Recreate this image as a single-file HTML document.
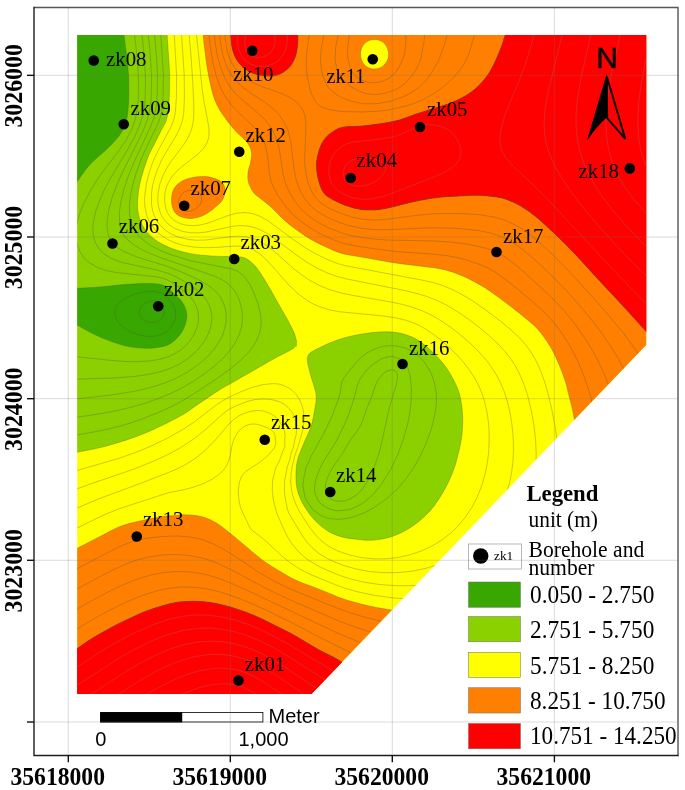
<!DOCTYPE html>
<html lang="en"><head><meta charset="utf-8"><title>Contour map</title>
<style>
html,body{margin:0;padding:0;background:#fff}
body{width:685px;height:790px;overflow:hidden}
svg{display:block}
.s{font-family:"Liberation Serif","DejaVu Serif",serif}
.a{font-family:"Liberation Sans","DejaVu Sans",sans-serif}
.b{font-weight:bold}
</style></head><body>
<svg width="685" height="790" viewBox="0 0 685 790">
<rect width="685" height="790" fill="#fff"/>
<defs><clipPath id="mp"><polygon points="77.2,35 646.2,35 646.2,345 311.4,694 77.2,694"/></clipPath></defs>
<g clip-path="url(#mp)">
<rect x="75.2" y="33" width="573" height="663" fill="#ffff00"/>
<path d="M167.0,33.0 C167.2,36.7 168.1,48.4 168.5,55.0 C168.9,61.6 169.4,66.7 169.6,72.5 C169.8,78.3 169.6,84.6 169.5,90.0 C169.4,95.4 169.3,100.0 168.8,105.0 C168.3,110.0 167.7,115.8 166.4,120.0 C165.2,124.2 163.2,126.4 161.3,130.2 C159.4,133.9 157.2,138.4 155.2,142.5 C153.1,146.6 150.9,150.3 149.0,154.7 C147.1,159.1 145.4,164.2 143.9,169.0 C142.4,173.8 140.9,178.6 139.9,183.4 C138.9,188.2 138.2,193.3 137.8,197.7 C137.5,202.1 137.3,205.8 137.8,209.9 C138.3,214.0 139.0,218.1 140.9,222.2 C142.8,226.3 145.6,230.8 149.0,234.4 C152.4,238.0 156.9,241.0 161.3,243.6 C165.7,246.2 170.5,248.1 175.6,249.8 C180.7,251.5 186.2,252.9 192.0,253.9 C197.8,254.9 204.9,255.5 210.4,255.9 C215.9,256.3 220.7,256.4 225.0,256.5 C229.3,256.6 232.5,256.2 236.0,256.5 C239.5,256.8 242.7,256.8 246.0,258.5 C249.3,260.2 252.7,263.1 256.0,267.0 C259.3,270.9 262.7,276.6 266.0,282.0 C269.3,287.4 272.7,293.7 276.0,299.5 C279.3,305.3 283.0,311.6 286.0,317.0 C289.0,322.4 292.0,327.8 293.8,332.0 C295.6,336.2 296.3,340.8 296.8,342.5 L297,346 L294.0,348.0 C293.0,348.6 291.3,349.8 288.0,351.5 C284.7,353.2 280.3,355.2 274.4,358.5 C268.5,361.8 259.8,366.8 252.5,371.0 C245.2,375.2 236.7,380.0 230.6,383.5 C224.5,387.0 221.5,388.7 216.0,392.2 C210.5,395.7 203.8,400.4 197.7,404.5 C191.6,408.6 188.6,411.6 179.5,416.5 C170.4,421.4 155.2,429.1 143.0,434.0 C130.8,438.9 117.7,442.9 106.5,446.0 C95.3,449.1 81.1,451.4 76.0,452.5 L70,460 L70,25 L167,25Z" fill="#8bd100"/>
<path d="M308.0,355.8 C309.9,351.6 315.3,349.9 321.0,347.0 C326.7,344.1 334.3,340.8 342.0,338.5 C349.7,336.2 358.7,334.3 367.0,333.2 C375.3,332.2 384.5,331.4 392.0,332.0 C399.5,332.6 406.2,334.5 412.0,337.0 C417.8,339.5 422.0,342.8 427.0,347.0 C432.0,351.2 437.8,357.0 442.0,362.0 C446.2,367.0 449.1,371.7 452.0,377.0 C454.9,382.3 457.8,387.8 459.5,394.0 C461.2,400.2 462.1,407.3 462.5,414.0 C462.9,420.7 462.7,427.3 462.0,434.0 C461.3,440.7 459.9,447.3 458.2,454.0 C456.6,460.7 454.7,467.3 452.0,474.0 C449.3,480.7 445.8,487.8 442.0,494.0 C438.2,500.2 434.5,506.1 429.5,511.5 C424.5,516.9 418.2,522.3 412.0,526.5 C405.8,530.7 398.7,534.2 392.0,536.5 C385.3,538.8 378.2,539.8 372.0,540.2 C365.8,540.7 359.5,539.5 354.5,539.0 C349.5,538.5 346.3,538.2 342.0,537.0 C337.7,535.8 332.8,534.1 328.5,531.5 C324.2,528.9 319.8,525.2 316.0,521.5 C312.2,517.8 308.9,513.6 306.0,509.0 C303.1,504.4 300.2,499.0 298.5,494.0 C296.8,489.0 296.2,484.4 296.0,479.0 C295.8,473.6 296.0,467.3 297.2,461.5 C298.5,455.7 301.2,449.8 303.5,444.0 C305.8,438.2 309.1,432.3 311.0,426.5 C312.9,420.7 313.9,414.4 314.8,409.0 C315.6,403.6 316.8,400.2 316.0,394.0 C315.2,387.8 311.1,378.4 309.8,372.0 C308.4,365.6 306.1,359.9 308.0,355.8Z" fill="#8bd100"/>
<path d="M123.8,33.0 C124.2,36.7 125.7,48.0 126.5,55.0 C127.3,62.0 128.1,68.3 128.5,75.0 C128.9,81.7 128.9,89.2 128.8,95.0 C128.7,100.8 128.5,105.5 128.0,110.0 C127.5,114.5 127.2,118.2 126.0,122.0 C124.8,125.8 123.3,129.3 121.0,133.0 C118.7,136.7 115.2,140.6 112.0,144.0 C108.8,147.4 105.2,150.6 102.0,153.5 C98.8,156.4 95.8,158.7 93.0,161.5 C90.2,164.3 87.8,166.8 85.0,170.5 C82.2,174.2 77.5,181.3 76.0,183.5 L70.0,190.0 L70.0,25.0 L125.0,25.0Z" fill="#38a800"/>
<path d="M76.0,288.3 C80.0,288.1 91.8,287.6 100.0,287.0 C108.2,286.4 116.7,285.1 125.0,284.5 C133.3,283.9 143.3,283.2 150.0,283.5 C156.7,283.8 160.7,284.0 165.0,286.0 C169.3,288.0 173.1,293.1 176.0,295.8 C178.9,298.4 180.5,299.3 182.2,302.0 C184.0,304.7 185.9,308.7 186.5,312.0 C187.1,315.3 186.9,318.5 186.0,322.0 C185.1,325.5 183.5,329.7 181.0,333.2 C178.5,336.8 174.5,341.0 171.0,343.2 C167.5,345.5 164.3,346.2 160.0,347.0 C155.7,347.8 150.8,348.5 145.0,348.2 C139.2,348.0 132.5,347.6 125.0,345.8 C117.5,343.9 108.2,340.5 100.0,337.0 C91.8,333.5 80.0,326.6 76.0,324.5 L70.0,324.0 L70.0,288.0Z" fill="#38a800"/>
<path d="M203.0,33.0 C203.3,35.8 203.8,43.0 204.8,50.0 C205.7,57.0 206.8,66.7 208.5,75.0 C210.2,83.3 212.0,92.9 214.8,100.0 C217.5,107.1 221.0,112.1 224.8,117.5 C228.5,122.9 233.2,128.3 237.0,132.5 C240.8,136.7 244.8,139.2 247.2,142.5 C249.7,145.8 251.0,149.2 251.5,152.5 C252.0,155.8 251.1,159.2 250.5,162.5 C249.9,165.8 248.3,169.2 248.0,172.5 C247.7,175.8 247.6,179.2 248.5,182.5 C249.4,185.8 251.8,190.1 253.5,192.5 C255.2,194.9 255.6,194.6 258.5,197.0 C261.4,199.4 266.8,203.2 271.0,207.0 C275.2,210.8 279.3,215.8 283.5,219.5 C287.7,223.2 291.4,226.2 296.0,229.5 C300.6,232.8 306.0,236.6 311.0,239.5 C316.0,242.4 320.8,244.7 326.0,247.0 C331.2,249.3 335.2,251.7 342.0,253.5 C348.8,255.3 358.7,256.5 367.0,258.0 C375.3,259.5 383.7,261.2 392.0,262.5 C400.3,263.8 408.7,264.6 417.0,265.8 C425.3,266.9 434.5,267.5 442.0,269.2 C449.5,270.9 455.3,272.9 462.0,275.7 C468.7,278.5 476.2,282.6 482.0,286.0 C487.8,289.4 491.8,292.5 497.0,296.2 C502.2,299.9 508.2,304.5 513.0,308.2 C517.8,311.9 521.3,314.8 525.5,318.3 C529.7,321.9 533.8,324.7 538.0,329.5 C542.2,334.3 547.0,341.2 550.5,347.0 C554.0,352.8 556.5,358.7 559.0,364.5 C561.5,370.3 563.9,377.1 565.5,382.0 C567.1,386.9 567.5,389.9 568.5,394.0 C569.5,398.1 570.8,402.4 571.8,406.5 C572.7,410.6 573.4,414.6 574.2,418.5 C575.1,422.4 576.5,428.1 577.0,430.0 L700.0,430.0 L700.0,25.0 L203.0,25.0Z" fill="#ff8000"/>
<path d="M171.5,201.8 C171.3,198.1 171.9,192.9 173.6,189.5 C175.3,186.1 178.3,183.4 181.7,181.3 C185.1,179.2 189.6,177.9 194.0,177.2 C198.4,176.4 203.9,176.1 208.3,176.8 C212.7,177.5 217.8,179.2 220.6,181.3 C223.4,183.4 224.8,186.4 225.1,189.5 C225.4,192.6 224.4,196.6 222.6,199.7 C220.8,202.8 217.5,205.3 214.4,207.9 C211.3,210.5 207.9,213.2 204.2,215.0 C200.5,216.8 195.8,218.2 192.0,218.5 C188.2,218.8 184.6,218.2 181.7,217.1 C178.8,216.0 176.3,214.6 174.6,212.0 C172.9,209.4 171.7,205.6 171.5,201.8Z" fill="#ff8000"/>
<path d="M76.0,549.0 C80.0,546.9 92.7,540.2 100.0,536.5 C107.3,532.8 113.3,529.1 120.0,526.5 C126.7,523.9 133.3,522.6 140.0,521.0 C146.7,519.4 154.8,517.9 160.0,517.0 C165.2,516.1 166.7,516.1 171.0,515.8 C175.3,515.4 181.0,514.6 186.0,514.8 C191.0,514.9 196.0,515.2 201.0,516.5 C206.0,517.8 211.0,519.8 216.0,522.8 C221.0,525.7 226.0,530.0 231.0,534.0 C236.0,538.0 241.0,542.3 246.0,546.5 C251.0,550.7 256.0,555.2 261.0,559.0 C266.0,562.8 270.2,565.5 276.0,569.0 C281.8,572.5 289.3,577.1 296.0,580.2 C302.7,583.4 310.2,585.7 316.0,588.0 C321.8,590.3 326.7,592.2 331.0,594.0 C335.3,595.8 338.1,597.1 342.0,598.5 C345.9,599.9 350.3,601.1 354.5,602.2 C358.7,603.4 362.8,604.5 367.0,605.5 C371.2,606.5 375.0,607.2 379.5,608.0 C384.0,608.8 391.6,610.1 394.0,610.5 L420.0,640.0 L420.0,720.0 L70.0,720.0 L70.0,549.0Z" fill="#ff8000"/>
<path d="M505.8,33.0 C505.1,35.0 503.5,40.9 502.0,45.0 C500.5,49.1 499.1,52.9 497.0,57.5 C494.9,62.1 492.4,67.9 489.5,72.5 C486.6,77.1 483.2,81.2 479.5,85.0 C475.8,88.8 471.6,92.1 467.0,95.0 C462.4,97.9 457.0,100.4 452.0,102.5 C447.0,104.6 442.8,105.6 437.0,107.5 C431.2,109.4 423.2,111.7 417.0,113.8 C410.8,115.8 405.3,118.4 399.5,120.0 C393.7,121.6 388.2,122.5 382.0,123.5 C375.8,124.5 368.7,125.3 362.0,126.0 C355.3,126.7 347.2,126.2 342.0,127.4 C336.8,128.6 334.2,130.7 331.0,133.0 C327.8,135.3 325.1,138.2 323.0,141.5 C320.9,144.8 319.6,148.6 318.5,152.5 C317.4,156.4 316.5,160.4 316.5,165.0 C316.5,169.6 317.3,175.4 318.5,180.0 C319.7,184.6 321.4,189.4 323.5,192.5 C325.6,195.6 327.9,196.6 331.0,198.5 C334.1,200.4 338.1,202.4 342.0,204.0 C345.9,205.6 350.3,207.2 354.5,208.2 C358.7,209.2 362.8,209.8 367.0,210.0 C371.2,210.2 375.3,210.0 379.5,209.5 C383.7,209.0 387.4,208.0 392.0,207.0 C396.6,206.0 401.6,204.5 407.0,203.2 C412.4,202.0 418.7,200.5 424.5,199.5 C430.3,198.5 436.2,197.6 442.0,197.0 C447.8,196.4 454.0,196.3 459.0,196.0 C464.0,195.7 468.2,195.4 472.0,195.3 C475.8,195.2 478.5,195.2 482.0,195.4 C485.5,195.6 489.3,196.0 493.0,196.5 C496.7,197.0 499.4,197.1 504.0,198.6 C508.6,200.1 514.9,202.6 520.3,205.7 C525.7,208.8 530.4,212.2 536.3,217.0 C542.2,221.8 549.1,228.4 555.6,234.6 C562.1,240.8 568.6,247.3 575.0,254.0 C581.4,260.7 587.6,267.8 594.0,274.7 C600.4,281.6 606.9,288.6 613.4,295.6 C619.9,302.6 626.8,310.0 632.7,316.5 C638.6,323.0 646.3,331.5 649.0,334.5 L700.0,335.0 L700.0,25.0 L505.0,25.0Z" fill="#ff0000"/>
<path d="M230.6,33.0 C230.9,35.6 231.2,43.8 232.3,48.4 C233.4,53.0 235.0,57.1 237.4,60.7 C239.8,64.3 243.0,67.5 246.6,69.9 C250.2,72.3 254.7,74.0 258.8,75.0 C262.9,76.0 267.2,76.3 271.0,76.0 C274.8,75.7 278.1,75.0 281.3,73.3 C284.6,71.6 288.1,68.9 290.5,65.8 C292.9,62.7 294.8,58.4 296.0,54.5 C297.2,50.6 297.4,45.9 297.7,42.3 C298.0,38.7 297.7,34.5 297.7,33.0 L298.0,25.0 L230.0,25.0Z" fill="#ff0000"/>
<path d="M76.0,649.5 C78.3,647.9 85.2,642.8 90.0,639.8 C94.8,636.7 100.0,633.8 105.0,631.0 C110.0,628.2 115.0,625.5 120.0,623.0 C125.0,620.5 130.0,618.2 135.0,616.0 C140.0,613.8 144.0,611.8 150.0,609.8 C156.0,607.7 165.0,604.9 171.0,603.5 C177.0,602.1 181.0,601.8 186.0,601.5 C191.0,601.2 196.0,601.2 201.0,601.5 C206.0,601.8 211.0,602.5 216.0,603.5 C221.0,604.5 226.0,605.8 231.0,607.2 C236.0,608.7 241.0,610.4 246.0,612.2 C251.0,614.1 256.0,616.2 261.0,618.5 C266.0,620.8 271.0,623.5 276.0,626.0 C281.0,628.5 286.0,630.8 291.0,633.5 C296.0,636.2 301.0,639.3 306.0,642.2 C311.0,645.2 316.4,648.5 321.0,651.0 C325.6,653.5 329.5,655.1 333.5,657.2 C337.5,659.4 343.1,662.9 345.0,664.0 L400.0,700.0 L70.0,720.0 L70.0,649.0Z" fill="#ff0000"/>
<path d="M374.5,39.5 C383,39.5 388.5,46 388.5,54.5 C388.5,63 382,69 374,69 C366,69 360.5,62.5 360.5,54 C360.5,45.5 366.5,39.5 374.5,39.5Z" fill="#ffff00"/>
<g fill="none" stroke="#4a4a4a" stroke-opacity="0.6" stroke-width="0.5"><g id="cl">
<path d="M152,300.9 150,301.2 146,302.8 142.7,305 140.9,307 139.8,309 139.1,313 140,316 142.2,319 146,321.4 148,322.1 152,322.6 156,322 158,321.2 161.1,319 162.7,317 163.7,315 164.3,311 163.4,307 162.3,305 160.4,303 158,301.6 156,301 152,300.9"/>
<path d="M140,292.7 132,295.1 124,299 119,303 117.3,305 115.3,309 114.8,313 115,315 116.3,319 118.9,323 120.7,325 126,329.3 133,333 142,335.6 148,336.4 152,336.4 156,336 160,335 166,332.2 169.7,329 171.4,327 174.7,321 175.9,315 175,309 173.3,305 168.8,299 164,294.6 160,292.5 154,291.3 148,291.4 140,292.7"/>
<path d="M70,356 112,360.5 128,361.6 138,361.6 146,361.2 154,360.3 162,358.7 170,356.1 176,353.2 182,349 186,345.3 190,340.7 193.7,335 196.5,329 198.2,323 198.6,317 197.9,311 195.8,305 193.5,301 190.3,297 186.2,293 173.2,283 166,279.3 158,277 116,272.5 106,270.5 98,267.7 90,263.2 87.2,261 84,257.7 79.6,251 76.8,243 75.9,235 76.6,225 79.1,215 84,203 90.3,191 97.7,179 103.3,171 118,151.9 126,140.3 131.9,129 135.3,119 137,111 138,102.9 138.6,91 138.5,79 137.7,65 135.8,45 134.5,35 132.6,27"/>
<path d="M70,379.2 112,378.1 134,376.5 144,375.1 154,373.2 162,371.1 170,368.4 178,364.8 184,361.3 190,356.9 196.5,351 201.7,345 205.7,339 208.7,333 211.1,325 211.8,319 211.6,315 210.5,309 209.1,305 207,301 204.2,297 200.5,293 195.8,289 190.1,285 180.2,279 174,275.8 168,273.3 158,270.3 124.1,263 116,260.4 110,257.8 104,253.9 99.1,249 95.5,243 93.6,237 92.8,229 93.5,221 95.8,211 99.4,201 103.8,191 108.9,181 128,148.9 134.6,137 139.8,125 142.8,115 144.3,107 145.1,99 145.5,79 144.8,65 143.5,49 142,35.4 140.6,27"/>
<path d="M70,399.5 108,395.5 134,391.4 146,388.7 156,385.9 166,382.5 176,378.2 185.9,373 194,367.7 202,361.5 209,355 214.2,349 219.7,341 222.7,335 225.2,327 226.2,321 226.2,315 225.3,309 224.2,305 221.5,299 218.8,295 215.2,291 212,288.2 207.7,285 200.9,281 192.8,277 179.3,271 166,266 137,257 122.9,251 116.4,247 112.1,243 109.8,239 108.3,235 107,227 107.3,219 108.9,209 112.3,197 116.8,185 121.2,175 143.1,131 147,121 149.7,111 151.3,97 151.6,77 150,51 147.5,27"/>
<path d="M388,370.6 384,373 382,374.8 377.5,381 374.8,387 370.9,399 366,410.6 363.3,419 360.8,425 357.2,431 350,440.6 342.8,453 334,465.4 330.7,471 328,476.6 326.4,481 325.4,485 325.4,491 326,493.1 328,496.4 330,498.3 334,500.4 338,501.3 344.3,501 350.2,499 356.4,495 360.6,491 365.2,485 369.9,477 373.5,469 377.2,459 380.2,449 389.5,407 396,385.5 397.4,379 397.5,375 397,373 396,371.4 394,370.2 392,369.8 388,370.6"/>
<path d="M70,418.3 106,412.8 120,409.9 132,407 146,402.9 158,398.7 170,393.8 180,388.9 192,382.1 202.7,375 213.3,367 222.3,359 229.5,351 235.1,343 239.1,335 241.5,327 242.3,321 242.3,315 241.7,309 240.2,303 238,297 234.7,291 231.5,287 228,283.7 222,279.7 214,276 158.9,257 148.9,253 142,249.7 134,245 128,240.2 123.7,235 121,229 119.5,221 119.5,211 121,201 124,189 128,177 133.6,163 151.3,125 154.2,117 156,109 157.3,95 157.5,75 156.5,57 153.9,27"/>
<path d="M388,356.8 384,357.8 380,359.6 372.2,365 366,371 360,379 357.4,385 355,395 352,405 347.7,417 344.3,425 336.3,441 322.6,463 319.7,469 316.6,477 315.1,483 314.4,491 315.6,495 318.5,501 320,503 322.3,505 328,508.3 334,510.3 338,510.8 348,509.8 352,508.6 358,505.8 362,503.6 365.6,501 370.4,497 374.4,493 382.3,483 390.9,469 397.6,455 403.5,439 407.8,423 409.7,413 411,403 411.5,389 410,375 406.9,365 405.9,363 404,360.9 402,359.7 396,357.5 392,356.7 388,356.8"/>
<path d="M70,436.3 104,430 118,426.6 130,423.1 142,419 156,413.5 170,407.3 180,402.2 198,391.1 219.1,377 230.2,369 239.9,361 247.9,353 252.7,347 257.4,339 260.1,331 261,325 261,319 259.8,311 257.7,303 254,293 250.1,285 246.2,279 242,274.4 237.1,271 232,269 198,262.3 188,260 172,255.1 160,250.4 149.9,245 141.8,239 137.9,235 134.9,231 132.8,227 131.2,223 129.6,215 129.4,205 130.6,195 133.2,183 136.2,173 141.3,159 144.8,151 158.2,123 160.4,117 161.7,111 163.1,97 163.4,75 160.3,27"/>
<path d="M382,346.6 376,348.5 372,350.2 367.1,353 362,356.7 355.6,363 344,377.7 342.2,381 341.6,383 340.1,393 338.4,399 332,416.5 321.9,437 317.2,445 314.3,451 311.5,455 309.2,461 306.1,467 303.6,479 302.9,485 304.8,497 306,499.6 312.1,509 320,515 326,517.8 332,518.9 340,519.3 350,517.8 354,516.7 364,512.9 374,507.6 386.2,499 395.2,491 400.8,485 405.8,479 411.5,471 417.6,461 422.7,451 427.1,441 430,433 432.4,425 434.7,415 436,407 436.5,399 436.2,393 434.9,385 432.6,377 430.1,371 425,363 421.6,359 414.8,353 410,350.1 404,347.6 396,345.8 388,345.6 382,346.6"/>
<path d="M70,472.5 118,458.6 136,452.3 150,446.5 168,437.9 184,428.8 194,422.1 216.2,405 222,401.1 228,397.7 240,392.1 252,387.5 262,384.8 272,383.6 278,383.9 282,384.9 288,387.5 292,390.3 296,394.3 299.3,399 301.9,405 303.4,411 304.2,419 303.1,429 297.9,447 295,455 292.1,467 291.2,473 290.7,481 291.3,489 292.6,495 295.3,503 299.1,511 302.8,517 310,527.9 316,535.6 320,539.6 326,544.5 332,548.2 338,551 350,555.1 362,557.7 374,558.9 386,558.8 398,557.5 410,554.8 421.3,551 432,546 442,539.9 450.8,533 458.9,525 465.5,517 472.1,507 477.2,497 482,485 485.3,473 487.3,463 488.6,453 489.2,441 489.1,431 488.3,421 486.7,411 484.4,401 481.8,393 478.4,385 474,377 468.7,369 464.1,363 457,355 450.9,349 441.9,341 434,334.7 426,329.2 418.3,325 410,321.6 402,319.2 394,317.5 384,316 340,311.8 330,310 320,306.9 314,304.3 308,301 298,293.7 288,284.2 271.3,265 265.7,259 258.6,253 252,249.2 246,247.1 240,246.2 234,246.1 216,247.4 204,247.7 194,247.1 184,245.5 174,242.5 166,238.6 158.1,233 154.2,229 152,226.1 149,221 147.3,217 146.1,213 145,207 144.6,201 144.8,195 146.6,183 149.1,173 153.2,161 157.9,151 171,127 174,119 175.5,111 176.4,97 176.6,75 173.8,27"/>
<path d="M70,491.5 87.5,485 134,469 152,461.8 166,455.5 180,448 194,438.8 206,429.2 223.8,413 229.5,409 236,405.8 248,401.2 256,399.4 262,399 268,399.2 274,400.1 280,402 284,404.2 288,407.3 292,412 294,415.3 296,420.4 296.6,429 296.1,435 294.9,439 293.5,447 291.1,453 290,459.2 287.2,467 284.6,481 284.4,491 285,497 286.9,507 288.7,513 303.2,537 307.7,543 312,547.6 318.4,553 326,557.9 334,561.8 344,565.6 356,569 370,571.6 384,572.7 398,572.6 412,571.2 426,568.3 438,564.6 450,559.4 461.1,553 470,546.5 480,537.4 488,528.2 494.5,519 501,507 505.9,495 509.5,483 511.5,473 513,461 513.5,449 513.2,437 512,425 510.1,413 507.2,401 504,391 500.6,383 496.5,375 491.4,367 485.3,359 478.1,351 470,343.1 460.6,335 452,328.3 441.5,321 432,315.4 422,310.7 412,307.1 402,304.3 392,302.2 354,295.6 342,293.2 330,289.8 320,285.8 310,280.5 300,273.7 292,267.2 274,251.2 268,246.5 260,241.5 254,238.8 246,236.8 238,236.2 230,236.8 206,240 196,240.2 188,239.4 178,237 170,233.4 163.8,229 158.4,223 155.9,219 154,215 152.7,211 151.6,205 151.4,195 152,189 153.2,183 156.1,173 161.1,161 166,152.2 175.4,137 179.5,129 182.3,121 183.7,113 184.4,99 184.2,75 181.1,27"/>
<path d="M70,511.1 100,498.3 140,483.6 168,472.7 176.8,469 184,465.5 196,457.9 206,449.6 216,439.2 229.9,423 234.2,419 240,415.2 245,413 250,411.5 256,410.6 260,410.6 264,411.2 269.2,413 274,415.7 277.8,419 279.4,421 284.5,431 285.1,435 284.7,439 284.9,445 284.7,447 282,453.2 279.4,461 276,467 275.4,469 272.5,481 272.3,491 273.5,501 276.7,513 284.6,531 287.6,537 292.8,545 297.9,551 304,556.7 309.7,561 318,565.9 328,570.7 340,575.5 350,578.8 364,582.2 380,584.6 398,585.8 414,585.5 428,584 442,581.1 454,577.4 466,572.3 479.1,565 490,557.1 499.1,549 508.1,539 516.6,527 523.2,515 528.2,503 532.4,489 534.7,477 535.9,465 536.2,453 535.5,439 533.9,425 531,409 527.5,395 523.5,383 519.1,373 514.8,365 510,357.8 504.6,351 497.1,343 488.4,335 478.8,327 468.3,319 456.6,311 446.4,305 436,300 426,296.2 416,293.3 404,290.4 346,278.8 336,276.1 326,272.4 316,267.6 306,261.7 296,254.7 270,235.2 262,230.6 256,228 248,226.1 244,225.7 238,225.7 230,226.8 206,232.1 198,232.9 190,232.7 182,231.3 174,228.1 168,223.9 164,219.5 161.3,215 160,211.8 158.7,207 158,203 157.8,199 158.1,193 160.1,183 163.2,175 168,166 172,160.1 183.5,145 188.4,137 191.7,129 193.4,121 193.9,109 192.8,83 191.1,57 188.5,27"/>
<path d="M70,531.5 102,515.8 118,509.1 168,492.8 184,489.7 194,487 204.7,483 212.5,479 218.1,475 222,471.7 224.3,469 226.9,465 228.6,461 229.9,457 232.1,445 233.3,441 235.1,437 238,432.1 240.7,429 244,426.7 248,424.8 252,424 256,424.1 260,425 268,428 272,430.5 274,432.7 275,435 275.7,443 275.5,445 274,448.3 268,455.5 260,462.1 246,471.3 242.5,475 241.3,477 239.8,481 238.9,485 238.3,491 238.6,497 239.4,503 240.4,507 242,511 249.6,527 252.9,531 264,539.4 283,557 290.7,563 299.7,569 311.7,575 334,584.2 346,588.6 358,591.9 374,595.3 394,598 410,599.1 426,599 440,597.6 454,594.9 468,590.7 482,584.8 496,577 507.3,569 518,559.6 527.6,549 536.4,537 543.2,525 549.4,511 553.7,497 556.3,485 557.9,471 558.3,459 557.6,445 555.5,429 551.7,409 547.4,391 543,377 539,367 535.1,359 530.3,351 524.3,343 518,336.3 510,329 500,320.8 487.1,311 474,301.8 462,294.5 451.2,289 440,284.6 432,282.3 422,280.1 346,265.8 338,263.7 330,260.7 316,254 306,248.3 294,240.1 268,220.8 260,216.3 254,214 248,212.8 244,212.5 236,213.3 228,215.6 208,223.1 200.4,225 194,225.7 186,225.2 180,223.6 174,220.4 170,216.6 167.6,213 166,209 164.6,201 164.7,195 165.3,191 166.4,187 168.1,183 172,176.5 178,169.9 184,164.9 197,155 203.3,149 207.1,143 208.8,137 209.1,133 208.8,127 204,101.5 202.4,91 195.7,27"/>
<path d="M353.1,27 350.9,31 349.4,35 348,45 347.6,53 347.8,57 348.5,61 350.1,67 351.8,71 354,74.5 358,78 362,80.2 366,81.7 370,82.6 374,82.8 378,82.4 382,81.4 388,78.8 390.6,77 394.8,73 399.3,67 403.5,57 404.6,53 405.5,47 405.9,41 405.6,35 403.7,27"/>
<path d="M70,572.5 114,549.3 124,544.7 134,541.1 146,538.4 162,536.5 178,536 190,537 196,538.1 204,540.3 212,543.4 220,547.3 232,554.3 259.9,573 274.1,581 288,588.1 336,607.7 348,612.1 362,616.4 376,620 394,623.9 408,626.1 422,627.5 434,628 446,627.6 458,626.5 470,624.6 482,621.8 494,618.1 506,613.4 518,607.5 528,601.7 538,594.8 547.7,587 556.2,579 564,570.5 571.5,561 578.2,551 584,540.7 589.5,529 593.3,519 596.9,507 599.1,497 600.7,487 601.7,477 602.2,465 601.9,455 600.8,443 599.4,433 596.9,421 592.9,405 588.9,391 585,379 580.3,367 574.8,355 569.4,345 563.1,335 555.8,325 548.8,317 540.7,309 530,299.5 514,286.2 504,278.4 496,272.7 488,268.1 481.4,265 466,259.8 456,257.3 448,255.8 434,254.2 402,252 388,250.7 360,246.7 346,244 334,240 320,233.7 308.6,227 297.9,219 291.5,213 284.7,205 277.6,195 273.3,187 271,181 269.7,175 267.7,157 266.3,149 264.5,143 261.6,137 258,131.6 254,127 238,111.8 230,103.2 225.4,97 221.1,89 216.6,77 212.9,63 210.3,47 208.2,27"/>
<path d="M188,190.6 190,190.3 194,190.6 198,192.2 200.8,195 201.6,197 201.9,199 200.9,203 198.1,207 194,209.8 190.8,211 188,211.4 184,210.8 181.2,209 179.6,207 178.6,203 179,199 181,195 184,192.2 188,190.6"/>
<path d="M339.2,27 338.1,35 335.7,47 335,57 335.6,63 336.5,67 339.9,75 344.2,81 348.6,85 352,87.4 360,91.4 364,93 368,93.9 374,94.5 380,94.1 385.8,93 392,91.1 396,89.4 400.1,87 405.4,83 412,75.8 416.4,69 419.3,63 420.7,59 423.8,43 425.6,27"/>
<path d="M70,592.9 94,579.7 112,570.4 124,564.8 136,560.3 148,557.1 162,555 176,554.5 188,555.3 202,558 210,560.4 218,563.5 232,570.2 267.2,589 288,599 340,621.5 354,626.7 368,631.3 382,635.1 396,638.2 410,640.6 422,642 436,642.8 448,642.8 460,642.1 472,640.7 486,638 498,634.9 510,630.9 522,625.9 534,619.9 545.5,613 556,605.6 566,597.4 574.8,589 583.8,579 591.6,569 598.2,559 605,547 610.5,535 615,523 618.5,511 621.1,499 622.9,487 623.9,475 624.1,463 623.6,451 622.1,437 620,425 616.7,411 612.7,397 608.6,385 603.7,373 598.1,361 591.5,349 584.1,337 575.6,325 567.7,315 560,306.2 550,295.9 524,272 514,263.6 506,257.7 500,253.9 494,250.9 486,248.3 476,245.9 464,243.7 452,242.2 434,241 386,240 370,238.6 356,236.6 344,233.7 330,228.5 318,222.4 308,215.4 301,209 296,203 290.9,195 287,187 284.9,181 282.9,173 279.9,153 278.3,145 275.8,137 271.9,129 267.7,123 262.3,117 255.6,111 242,99.8 236,94 230,86.7 225.4,79 221.1,69 217.6,57 215.2,43 213.8,27"/>
<path d="M325,27 321,51 320.5,61 321.3,69 322.6,75 325.7,83 327.9,87 332,91.2 337.1,95 342,97.7 348,100.3 362,103.6 374,103.8 378,103.5 390,101.3 402.4,97 408,94.4 413.9,91 419.4,87 423.7,83 427.2,79 431.4,73 436.2,65 439.2,59 445,43 449.2,27"/>
<path d="M70,613.2 90,601.6 108,592 124,584.4 138,578.8 152,574.7 164,572.4 178,571.4 190,571.9 200,573.3 208,575.1 218,578.1 228,581.9 250,591.7 338,633.3 360,642.4 378,648.2 392,651.7 406,654.4 420,656.4 434,657.7 448,658.1 460,657.8 474,656.6 486,654.9 500,652 514,648 527.8,643 540,637.6 552.4,631 564,623.7 575.8,615 585.2,607 595.3,597 604.1,587 612,576.5 619.5,565 626,553 631.5,541 636,529 640.2,515 642.8,503 644.9,489 646,475 646.1,461 645.3,447 643.6,433 641,419 637.5,405 633,391 628.4,379 622.8,367 617.4,357 609.9,345 601.5,333 590.9,319 580,305.9 568.5,293 556,280 542,266.4 530,255.6 522,249 513.4,243 506,238.8 498,235.4 490,232.9 480,230.9 468,229.3 454,228.2 430,227.8 384,229.8 372,229.4 362,228.3 350,225.9 338,222.1 326,216.7 316,210.5 309.9,205 305,199 301.4,193 297.9,185 296,179 294.3,171 291.5,147 290.2,139 288.1,131 284.7,123 279.3,115 273.6,109 266,103 250,92.7 244,88.3 238,83 232,75.7 229,71 226.1,65 222.8,55 220.2,41 219.4,27"/>
<path d="M310.4,27 307.4,47 306.2,59 306.2,65 307.4,77 310,89 311.2,93 315.1,101 316.6,103 320,105.9 324,107.9 330,109.7 336,110.8 344,111.6 362,112 378,111.2 390,109.7 406,106.1 415.1,103 424.1,99 431.4,95 440.4,89 447.8,83 454,77 460,70 464.6,63 467.6,57 469.8,51 476.7,27"/>
<path d="M654,386.7 650.2,377 645.6,367 641.4,359 636.6,351 624.9,335 606.7,313 576,278.6 554,256 542,244.7 532,236.2 524,230.2 516,225.3 506,220.6 494,217 480,214.8 464,213.7 448,213.4 434,213.8 418,215.2 384,219.6 374,220 364,219.4 352,217.1 340,213.2 328,207.7 320,202.3 315,197 311.4,191 308.2,183 306.2,175 305,167 304.6,159 305.8,131 305.8,123 304.8,115 302.4,109 301.1,107 297.5,103 294,100.2 289,97 280.3,93 262,86.7 254,83.3 246,78.8 242,75.8 238,71.9 234.2,67 232,63.4 229.9,59 227.8,53 226.5,47 225.3,39 224.9,33 225.1,27"/>
<path d="M70,633.4 88,622.1 106,612.1 126,602.2 142,595.6 156,591.1 170,588.1 182,587 196,587.4 208,589.1 220,591.9 232,595.8 248,602 264,609.1 292.6,623 324,639.6 350,652.3 362,657.3 378,662.4 392,666 408,669.2 422,671.4 436,672.8 450,673.4 464,673.3 478,672.4 492,670.6 506,668 518,665 530.6,661 544,655.8 556,650.3 568,643.8 578.8,637 590,628.9 600,620.6 610.2,611 619.4,601 627.4,591 634.5,581 642,568.8 648.1,557 654,543.5"/>
<path d="M286.3,27 287.2,35 287.1,43 285.9,49 283.2,55 280,59 277.8,61 274,63.6 268,65.9 262,66.6 256,65.9 250,63.7 246.1,61 244,59 241.1,55 238.6,49 237.3,41 237.4,33 238.7,27"/>
<path d="M654,311.8 612,268.5 548,199.7 536,187.7 512,165 505.3,157 502,151 500.3,145 499.9,139 500.7,131 502.5,123 506.5,111 519,81 525.7,63 531.4,45 535.9,27"/>
<path d="M70,671.5 101.7,651 115.2,643 134,633.1 152,625.1 168,619.5 182,616.3 196,614.9 210,615.3 222,617 234,619.8 248,624.3 260,629.3 286,642.6 314,659.7 340,674.8 348,678.9 358,683.3 374,689.2 390,694 406,697.9 422.3,701"/>
<path d="M514.8,701 534,696.9 554,690.9 574,683 592,674.1 610,663.1 626,651.3 640,639 654,624.6"/>
<path d="M422,125 426,124.6 432,124.8 438,125.7 442.5,127 447,129 450.1,131 452.5,133 455.8,137 458.1,141 460.4,147 461.1,151 460.9,155 459.6,159 456.9,163 452.8,167 450.1,169 444,172.5 438.8,175 392,193.3 381.2,197 372,198.9 366,199.3 360,199.1 354,198 350,196.9 344,194.4 338.2,191 335.8,189 332.4,185 330.5,181 329,175 328.8,169 329.2,165 331,159 333.1,155 336.1,151 340.7,147 346,144.1 354,141.8 382,138.9 394,136.6 402,133.9 416,127 422,125"/>
<path d="M271.8,27 274,31.5 275.2,37 275,43 273.9,47 271.6,51 269.9,53 267.4,55 263.1,57 258,57.7 254,57.1 250,55 248,53 246.8,51 245.3,47 244.8,43 245.3,37 247.3,31 249.8,27"/>
<path d="M654,283.8 630,259.8 614,243 596,223 582.6,207 570.5,191 561.1,177 554.3,165 549.1,153 546.1,143 544.5,133 544.1,123 544.9,111 546.4,101 548.9,89 564.1,27"/>
<path d="M70,689.6 120,657.6 136,648.6 152,640.9 168,634.6 182,630.7 196,628.5 210,628.1 222,629.2 234,631.6 246,635.2 260,640.9 272,646.9 282.8,653 318,675.3 336,686.2 352,694.3 367.9,701"/>
<path d="M579.6,701 600,691.6 618.5,681 636,669 646,661.1 654,654.1"/>
<path d="M356,158.6 362,157.6 368,157.8 375,159 380,160.8 383.4,163 385,165 385.7,167 385.7,169 385.1,171 382.8,175 378.8,179 374,182.2 370,184.1 366,185.4 360,186.2 356,186 351.8,185 348,183 345.9,181 344.5,179 343.2,175 343.4,171 344.8,167 347.8,163 352,160.1 356,158.6"/>
<path d="M654,254.6 636.6,237 623.6,223 611.7,209 602.6,197 594.7,185 588.2,173 583,161 579.9,151 577.6,141 576.2,129 576,117 576.8,105 578.4,93 581.3,77 592.5,27"/>
<path d="M80.8,701 128,670.2 144,661 158,654 172,648.3 186,644.1 200,641.7 212,641.1 224,641.9 236,644.2 248,647.8 260,652.9 268,657 278.3,663 318,689.2 337.6,701"/>
<path d="M623.4,701 639.7,691 654,680.7"/>
<path d="M654,222 643.9,211 634,199.4 626.2,189 621,181 616.6,173 612.5,163 609.5,153 607.5,143 606.3,133 605.9,123 606.3,111 607.5,99 609.5,85 612.1,71 622,27"/>
<path d="M108.5,701 128,688 142.4,679 156,671.4 169.4,665 182,660.2 194,656.8 206,654.9 216,654.3 226,654.9 236,656.6 246,659.5 256,663.6 266,668.9 275.8,675 313.8,701"/>
<path d="M654,179.3 646.8,167 644.1,161 642,154.8 640.1,147 638.7,139 637.7,123 638.5,105 641,85 645.5,61 653.2,27"/>
<path d="M136.6,701 149.2,693 160,686.8 171.2,681 182,676.3 192,672.8 202,670.2 212,668.6 220,668.2 228,668.5 236,669.7 242,671.3 250,674.4 258,678.6 266,683.4 291.3,701"/>
<path d="M168.4,701 184,693.3 198,688 206,685.9 212,684.7 224,683.7 234,684.5 242,686.8 254,692.7 267.1,701"/>
<path d="M167.0,33.0 C167.2,36.7 168.1,48.4 168.5,55.0 C168.9,61.6 169.4,66.7 169.6,72.5 C169.8,78.3 169.6,84.6 169.5,90.0 C169.4,95.4 169.3,100.0 168.8,105.0 C168.3,110.0 167.7,115.8 166.4,120.0 C165.2,124.2 163.2,126.4 161.3,130.2 C159.4,133.9 157.2,138.4 155.2,142.5 C153.1,146.6 150.9,150.3 149.0,154.7 C147.1,159.1 145.4,164.2 143.9,169.0 C142.4,173.8 140.9,178.6 139.9,183.4 C138.9,188.2 138.2,193.3 137.8,197.7 C137.5,202.1 137.3,205.8 137.8,209.9 C138.3,214.0 139.0,218.1 140.9,222.2 C142.8,226.3 145.6,230.8 149.0,234.4 C152.4,238.0 156.9,241.0 161.3,243.6 C165.7,246.2 170.5,248.1 175.6,249.8 C180.7,251.5 186.2,252.9 192.0,253.9 C197.8,254.9 204.9,255.5 210.4,255.9 C215.9,256.3 220.7,256.4 225.0,256.5 C229.3,256.6 232.5,256.2 236.0,256.5 C239.5,256.8 242.7,256.8 246.0,258.5 C249.3,260.2 252.7,263.1 256.0,267.0 C259.3,270.9 262.7,276.6 266.0,282.0 C269.3,287.4 272.7,293.7 276.0,299.5 C279.3,305.3 283.0,311.6 286.0,317.0 C289.0,322.4 292.0,327.8 293.8,332.0 C295.6,336.2 296.3,340.8 296.8,342.5"/>
<path d="M294.0,348.0 C293.0,348.6 291.3,349.8 288.0,351.5 C284.7,353.2 280.3,355.2 274.4,358.5 C268.5,361.8 259.8,366.8 252.5,371.0 C245.2,375.2 236.7,380.0 230.6,383.5 C224.5,387.0 221.5,388.7 216.0,392.2 C210.5,395.7 203.8,400.4 197.7,404.5 C191.6,408.6 188.6,411.6 179.5,416.5 C170.4,421.4 155.2,429.1 143.0,434.0 C130.8,438.9 117.7,442.9 106.5,446.0 C95.3,449.1 81.1,451.4 76.0,452.5"/>
<path d="M123.8,33.0 C124.2,36.7 125.7,48.0 126.5,55.0 C127.3,62.0 128.1,68.3 128.5,75.0 C128.9,81.7 128.9,89.2 128.8,95.0 C128.7,100.8 128.5,105.5 128.0,110.0 C127.5,114.5 127.2,118.2 126.0,122.0 C124.8,125.8 123.3,129.3 121.0,133.0 C118.7,136.7 115.2,140.6 112.0,144.0 C108.8,147.4 105.2,150.6 102.0,153.5 C98.8,156.4 95.8,158.7 93.0,161.5 C90.2,164.3 87.8,166.8 85.0,170.5 C82.2,174.2 77.5,181.3 76.0,183.5"/>
<path d="M76.0,288.3 C80.0,288.1 91.8,287.6 100.0,287.0 C108.2,286.4 116.7,285.1 125.0,284.5 C133.3,283.9 143.3,283.2 150.0,283.5 C156.7,283.8 160.7,284.0 165.0,286.0 C169.3,288.0 173.1,293.1 176.0,295.8 C178.9,298.4 180.5,299.3 182.2,302.0 C184.0,304.7 185.9,308.7 186.5,312.0 C187.1,315.3 186.9,318.5 186.0,322.0 C185.1,325.5 183.5,329.7 181.0,333.2 C178.5,336.8 174.5,341.0 171.0,343.2 C167.5,345.5 164.3,346.2 160.0,347.0 C155.7,347.8 150.8,348.5 145.0,348.2 C139.2,348.0 132.5,347.6 125.0,345.8 C117.5,343.9 108.2,340.5 100.0,337.0 C91.8,333.5 80.0,326.6 76.0,324.5"/>
<path d="M308.0,355.8 C309.9,351.6 315.3,349.9 321.0,347.0 C326.7,344.1 334.3,340.8 342.0,338.5 C349.7,336.2 358.7,334.3 367.0,333.2 C375.3,332.2 384.5,331.4 392.0,332.0 C399.5,332.6 406.2,334.5 412.0,337.0 C417.8,339.5 422.0,342.8 427.0,347.0 C432.0,351.2 437.8,357.0 442.0,362.0 C446.2,367.0 449.1,371.7 452.0,377.0 C454.9,382.3 457.8,387.8 459.5,394.0 C461.2,400.2 462.1,407.3 462.5,414.0 C462.9,420.7 462.7,427.3 462.0,434.0 C461.3,440.7 459.9,447.3 458.2,454.0 C456.6,460.7 454.7,467.3 452.0,474.0 C449.3,480.7 445.8,487.8 442.0,494.0 C438.2,500.2 434.5,506.1 429.5,511.5 C424.5,516.9 418.2,522.3 412.0,526.5 C405.8,530.7 398.7,534.2 392.0,536.5 C385.3,538.8 378.2,539.8 372.0,540.2 C365.8,540.7 359.5,539.5 354.5,539.0 C349.5,538.5 346.3,538.2 342.0,537.0 C337.7,535.8 332.8,534.1 328.5,531.5 C324.2,528.9 319.8,525.2 316.0,521.5 C312.2,517.8 308.9,513.6 306.0,509.0 C303.1,504.4 300.2,499.0 298.5,494.0 C296.8,489.0 296.2,484.4 296.0,479.0 C295.8,473.6 296.0,467.3 297.2,461.5 C298.5,455.7 301.2,449.8 303.5,444.0 C305.8,438.2 309.1,432.3 311.0,426.5 C312.9,420.7 313.9,414.4 314.8,409.0 C315.6,403.6 316.8,400.2 316.0,394.0 C315.2,387.8 311.1,378.4 309.8,372.0 C308.4,365.6 306.1,359.9 308.0,355.8Z"/>
<path d="M203.0,33.0 C203.3,35.8 203.8,43.0 204.8,50.0 C205.7,57.0 206.8,66.7 208.5,75.0 C210.2,83.3 212.0,92.9 214.8,100.0 C217.5,107.1 221.0,112.1 224.8,117.5 C228.5,122.9 233.2,128.3 237.0,132.5 C240.8,136.7 244.8,139.2 247.2,142.5 C249.7,145.8 251.0,149.2 251.5,152.5 C252.0,155.8 251.1,159.2 250.5,162.5 C249.9,165.8 248.3,169.2 248.0,172.5 C247.7,175.8 247.6,179.2 248.5,182.5 C249.4,185.8 251.8,190.1 253.5,192.5 C255.2,194.9 255.6,194.6 258.5,197.0 C261.4,199.4 266.8,203.2 271.0,207.0 C275.2,210.8 279.3,215.8 283.5,219.5 C287.7,223.2 291.4,226.2 296.0,229.5 C300.6,232.8 306.0,236.6 311.0,239.5 C316.0,242.4 320.8,244.7 326.0,247.0 C331.2,249.3 335.2,251.7 342.0,253.5 C348.8,255.3 358.7,256.5 367.0,258.0 C375.3,259.5 383.7,261.2 392.0,262.5 C400.3,263.8 408.7,264.6 417.0,265.8 C425.3,266.9 434.5,267.5 442.0,269.2 C449.5,270.9 455.3,272.9 462.0,275.7 C468.7,278.5 476.2,282.6 482.0,286.0 C487.8,289.4 491.8,292.5 497.0,296.2 C502.2,299.9 508.2,304.5 513.0,308.2 C517.8,311.9 521.3,314.8 525.5,318.3 C529.7,321.9 533.8,324.7 538.0,329.5 C542.2,334.3 547.0,341.2 550.5,347.0 C554.0,352.8 556.5,358.7 559.0,364.5 C561.5,370.3 563.9,377.1 565.5,382.0 C567.1,386.9 567.5,389.9 568.5,394.0 C569.5,398.1 570.8,402.4 571.8,406.5 C572.7,410.6 573.4,414.6 574.2,418.5 C575.1,422.4 576.5,428.1 577.0,430.0"/>
<path d="M505.8,33.0 C505.1,35.0 503.5,40.9 502.0,45.0 C500.5,49.1 499.1,52.9 497.0,57.5 C494.9,62.1 492.4,67.9 489.5,72.5 C486.6,77.1 483.2,81.2 479.5,85.0 C475.8,88.8 471.6,92.1 467.0,95.0 C462.4,97.9 457.0,100.4 452.0,102.5 C447.0,104.6 442.8,105.6 437.0,107.5 C431.2,109.4 423.2,111.7 417.0,113.8 C410.8,115.8 405.3,118.4 399.5,120.0 C393.7,121.6 388.2,122.5 382.0,123.5 C375.8,124.5 368.7,125.3 362.0,126.0 C355.3,126.7 347.2,126.2 342.0,127.4 C336.8,128.6 334.2,130.7 331.0,133.0 C327.8,135.3 325.1,138.2 323.0,141.5 C320.9,144.8 319.6,148.6 318.5,152.5 C317.4,156.4 316.5,160.4 316.5,165.0 C316.5,169.6 317.3,175.4 318.5,180.0 C319.7,184.6 321.4,189.4 323.5,192.5 C325.6,195.6 327.9,196.6 331.0,198.5 C334.1,200.4 338.1,202.4 342.0,204.0 C345.9,205.6 350.3,207.2 354.5,208.2 C358.7,209.2 362.8,209.8 367.0,210.0 C371.2,210.2 375.3,210.0 379.5,209.5 C383.7,209.0 387.4,208.0 392.0,207.0 C396.6,206.0 401.6,204.5 407.0,203.2 C412.4,202.0 418.7,200.5 424.5,199.5 C430.3,198.5 436.2,197.6 442.0,197.0 C447.8,196.4 454.0,196.3 459.0,196.0 C464.0,195.7 468.2,195.4 472.0,195.3 C475.8,195.2 478.5,195.2 482.0,195.4 C485.5,195.6 489.3,196.0 493.0,196.5 C496.7,197.0 499.4,197.1 504.0,198.6 C508.6,200.1 514.9,202.6 520.3,205.7 C525.7,208.8 530.4,212.2 536.3,217.0 C542.2,221.8 549.1,228.4 555.6,234.6 C562.1,240.8 568.6,247.3 575.0,254.0 C581.4,260.7 587.6,267.8 594.0,274.7 C600.4,281.6 606.9,288.6 613.4,295.6 C619.9,302.6 626.8,310.0 632.7,316.5 C638.6,323.0 646.3,331.5 649.0,334.5"/>
<path d="M230.6,33.0 C230.9,35.6 231.2,43.8 232.3,48.4 C233.4,53.0 235.0,57.1 237.4,60.7 C239.8,64.3 243.0,67.5 246.6,69.9 C250.2,72.3 254.7,74.0 258.8,75.0 C262.9,76.0 267.2,76.3 271.0,76.0 C274.8,75.7 278.1,75.0 281.3,73.3 C284.6,71.6 288.1,68.9 290.5,65.8 C292.9,62.7 294.8,58.4 296.0,54.5 C297.2,50.6 297.4,45.9 297.7,42.3 C298.0,38.7 297.7,34.5 297.7,33.0"/>
<path d="M171.5,201.8 C171.3,198.1 171.9,192.9 173.6,189.5 C175.3,186.1 178.3,183.4 181.7,181.3 C185.1,179.2 189.6,177.9 194.0,177.2 C198.4,176.4 203.9,176.1 208.3,176.8 C212.7,177.5 217.8,179.2 220.6,181.3 C223.4,183.4 224.8,186.4 225.1,189.5 C225.4,192.6 224.4,196.6 222.6,199.7 C220.8,202.8 217.5,205.3 214.4,207.9 C211.3,210.5 207.9,213.2 204.2,215.0 C200.5,216.8 195.8,218.2 192.0,218.5 C188.2,218.8 184.6,218.2 181.7,217.1 C178.8,216.0 176.3,214.6 174.6,212.0 C172.9,209.4 171.7,205.6 171.5,201.8Z"/>
<path d="M76.0,549.0 C80.0,546.9 92.7,540.2 100.0,536.5 C107.3,532.8 113.3,529.1 120.0,526.5 C126.7,523.9 133.3,522.6 140.0,521.0 C146.7,519.4 154.8,517.9 160.0,517.0 C165.2,516.1 166.7,516.1 171.0,515.8 C175.3,515.4 181.0,514.6 186.0,514.8 C191.0,514.9 196.0,515.2 201.0,516.5 C206.0,517.8 211.0,519.8 216.0,522.8 C221.0,525.7 226.0,530.0 231.0,534.0 C236.0,538.0 241.0,542.3 246.0,546.5 C251.0,550.7 256.0,555.2 261.0,559.0 C266.0,562.8 270.2,565.5 276.0,569.0 C281.8,572.5 289.3,577.1 296.0,580.2 C302.7,583.4 310.2,585.7 316.0,588.0 C321.8,590.3 326.7,592.2 331.0,594.0 C335.3,595.8 338.1,597.1 342.0,598.5 C345.9,599.9 350.3,601.1 354.5,602.2 C358.7,603.4 362.8,604.5 367.0,605.5 C371.2,606.5 375.0,607.2 379.5,608.0 C384.0,608.8 391.6,610.1 394.0,610.5"/>
<path d="M76.0,649.5 C78.3,647.9 85.2,642.8 90.0,639.8 C94.8,636.7 100.0,633.8 105.0,631.0 C110.0,628.2 115.0,625.5 120.0,623.0 C125.0,620.5 130.0,618.2 135.0,616.0 C140.0,613.8 144.0,611.8 150.0,609.8 C156.0,607.7 165.0,604.9 171.0,603.5 C177.0,602.1 181.0,601.8 186.0,601.5 C191.0,601.2 196.0,601.2 201.0,601.5 C206.0,601.8 211.0,602.5 216.0,603.5 C221.0,604.5 226.0,605.8 231.0,607.2 C236.0,608.7 241.0,610.4 246.0,612.2 C251.0,614.1 256.0,616.2 261.0,618.5 C266.0,620.8 271.0,623.5 276.0,626.0 C281.0,628.5 286.0,630.8 291.0,633.5 C296.0,636.2 301.0,639.3 306.0,642.2 C311.0,645.2 316.4,648.5 321.0,651.0 C325.6,653.5 329.5,655.1 333.5,657.2 C337.5,659.4 343.1,662.9 345.0,664.0"/>
<path d="M374.5,39.5 C383,39.5 388.5,46 388.5,54.5 C388.5,63 382,69 374,69 C366,69 360.5,62.5 360.5,54 C360.5,45.5 366.5,39.5 374.5,39.5Z"/>
</g></g>
<clipPath id="rc"><path d="M505.8,33.0 C505.1,35.0 503.5,40.9 502.0,45.0 C500.5,49.1 499.1,52.9 497.0,57.5 C494.9,62.1 492.4,67.9 489.5,72.5 C486.6,77.1 483.2,81.2 479.5,85.0 C475.8,88.8 471.6,92.1 467.0,95.0 C462.4,97.9 457.0,100.4 452.0,102.5 C447.0,104.6 442.8,105.6 437.0,107.5 C431.2,109.4 423.2,111.7 417.0,113.8 C410.8,115.8 405.3,118.4 399.5,120.0 C393.7,121.6 388.2,122.5 382.0,123.5 C375.8,124.5 368.7,125.3 362.0,126.0 C355.3,126.7 347.2,126.2 342.0,127.4 C336.8,128.6 334.2,130.7 331.0,133.0 C327.8,135.3 325.1,138.2 323.0,141.5 C320.9,144.8 319.6,148.6 318.5,152.5 C317.4,156.4 316.5,160.4 316.5,165.0 C316.5,169.6 317.3,175.4 318.5,180.0 C319.7,184.6 321.4,189.4 323.5,192.5 C325.6,195.6 327.9,196.6 331.0,198.5 C334.1,200.4 338.1,202.4 342.0,204.0 C345.9,205.6 350.3,207.2 354.5,208.2 C358.7,209.2 362.8,209.8 367.0,210.0 C371.2,210.2 375.3,210.0 379.5,209.5 C383.7,209.0 387.4,208.0 392.0,207.0 C396.6,206.0 401.6,204.5 407.0,203.2 C412.4,202.0 418.7,200.5 424.5,199.5 C430.3,198.5 436.2,197.6 442.0,197.0 C447.8,196.4 454.0,196.3 459.0,196.0 C464.0,195.7 468.2,195.4 472.0,195.3 C475.8,195.2 478.5,195.2 482.0,195.4 C485.5,195.6 489.3,196.0 493.0,196.5 C496.7,197.0 499.4,197.1 504.0,198.6 C508.6,200.1 514.9,202.6 520.3,205.7 C525.7,208.8 530.4,212.2 536.3,217.0 C542.2,221.8 549.1,228.4 555.6,234.6 C562.1,240.8 568.6,247.3 575.0,254.0 C581.4,260.7 587.6,267.8 594.0,274.7 C600.4,281.6 606.9,288.6 613.4,295.6 C619.9,302.6 626.8,310.0 632.7,316.5 C638.6,323.0 646.3,331.5 649.0,334.5 L700.0,335.0 L700.0,25.0 L505.0,25.0Z"/><path d="M230.6,33.0 C230.9,35.6 231.2,43.8 232.3,48.4 C233.4,53.0 235.0,57.1 237.4,60.7 C239.8,64.3 243.0,67.5 246.6,69.9 C250.2,72.3 254.7,74.0 258.8,75.0 C262.9,76.0 267.2,76.3 271.0,76.0 C274.8,75.7 278.1,75.0 281.3,73.3 C284.6,71.6 288.1,68.9 290.5,65.8 C292.9,62.7 294.8,58.4 296.0,54.5 C297.2,50.6 297.4,45.9 297.7,42.3 C298.0,38.7 297.7,34.5 297.7,33.0 L298.0,25.0 L230.0,25.0Z"/><path d="M76.0,649.5 C78.3,647.9 85.2,642.8 90.0,639.8 C94.8,636.7 100.0,633.8 105.0,631.0 C110.0,628.2 115.0,625.5 120.0,623.0 C125.0,620.5 130.0,618.2 135.0,616.0 C140.0,613.8 144.0,611.8 150.0,609.8 C156.0,607.7 165.0,604.9 171.0,603.5 C177.0,602.1 181.0,601.8 186.0,601.5 C191.0,601.2 196.0,601.2 201.0,601.5 C206.0,601.8 211.0,602.5 216.0,603.5 C221.0,604.5 226.0,605.8 231.0,607.2 C236.0,608.7 241.0,610.4 246.0,612.2 C251.0,614.1 256.0,616.2 261.0,618.5 C266.0,620.8 271.0,623.5 276.0,626.0 C281.0,628.5 286.0,630.8 291.0,633.5 C296.0,636.2 301.0,639.3 306.0,642.2 C311.0,645.2 316.4,648.5 321.0,651.0 C325.6,653.5 329.5,655.1 333.5,657.2 C337.5,659.4 343.1,662.9 345.0,664.0 L400.0,700.0 L70.0,720.0 L70.0,649.0Z"/></clipPath>
<path d="M505.8,33.0 C505.1,35.0 503.5,40.9 502.0,45.0 C500.5,49.1 499.1,52.9 497.0,57.5 C494.9,62.1 492.4,67.9 489.5,72.5 C486.6,77.1 483.2,81.2 479.5,85.0 C475.8,88.8 471.6,92.1 467.0,95.0 C462.4,97.9 457.0,100.4 452.0,102.5 C447.0,104.6 442.8,105.6 437.0,107.5 C431.2,109.4 423.2,111.7 417.0,113.8 C410.8,115.8 405.3,118.4 399.5,120.0 C393.7,121.6 388.2,122.5 382.0,123.5 C375.8,124.5 368.7,125.3 362.0,126.0 C355.3,126.7 347.2,126.2 342.0,127.4 C336.8,128.6 334.2,130.7 331.0,133.0 C327.8,135.3 325.1,138.2 323.0,141.5 C320.9,144.8 319.6,148.6 318.5,152.5 C317.4,156.4 316.5,160.4 316.5,165.0 C316.5,169.6 317.3,175.4 318.5,180.0 C319.7,184.6 321.4,189.4 323.5,192.5 C325.6,195.6 327.9,196.6 331.0,198.5 C334.1,200.4 338.1,202.4 342.0,204.0 C345.9,205.6 350.3,207.2 354.5,208.2 C358.7,209.2 362.8,209.8 367.0,210.0 C371.2,210.2 375.3,210.0 379.5,209.5 C383.7,209.0 387.4,208.0 392.0,207.0 C396.6,206.0 401.6,204.5 407.0,203.2 C412.4,202.0 418.7,200.5 424.5,199.5 C430.3,198.5 436.2,197.6 442.0,197.0 C447.8,196.4 454.0,196.3 459.0,196.0 C464.0,195.7 468.2,195.4 472.0,195.3 C475.8,195.2 478.5,195.2 482.0,195.4 C485.5,195.6 489.3,196.0 493.0,196.5 C496.7,197.0 499.4,197.1 504.0,198.6 C508.6,200.1 514.9,202.6 520.3,205.7 C525.7,208.8 530.4,212.2 536.3,217.0 C542.2,221.8 549.1,228.4 555.6,234.6 C562.1,240.8 568.6,247.3 575.0,254.0 C581.4,260.7 587.6,267.8 594.0,274.7 C600.4,281.6 606.9,288.6 613.4,295.6 C619.9,302.6 626.8,310.0 632.7,316.5 C638.6,323.0 646.3,331.5 649.0,334.5 L700.0,335.0 L700.0,25.0 L505.0,25.0Z" fill="#ff0000"/>
<path d="M230.6,33.0 C230.9,35.6 231.2,43.8 232.3,48.4 C233.4,53.0 235.0,57.1 237.4,60.7 C239.8,64.3 243.0,67.5 246.6,69.9 C250.2,72.3 254.7,74.0 258.8,75.0 C262.9,76.0 267.2,76.3 271.0,76.0 C274.8,75.7 278.1,75.0 281.3,73.3 C284.6,71.6 288.1,68.9 290.5,65.8 C292.9,62.7 294.8,58.4 296.0,54.5 C297.2,50.6 297.4,45.9 297.7,42.3 C298.0,38.7 297.7,34.5 297.7,33.0 L298.0,25.0 L230.0,25.0Z" fill="#ff0000"/>
<path d="M76.0,649.5 C78.3,647.9 85.2,642.8 90.0,639.8 C94.8,636.7 100.0,633.8 105.0,631.0 C110.0,628.2 115.0,625.5 120.0,623.0 C125.0,620.5 130.0,618.2 135.0,616.0 C140.0,613.8 144.0,611.8 150.0,609.8 C156.0,607.7 165.0,604.9 171.0,603.5 C177.0,602.1 181.0,601.8 186.0,601.5 C191.0,601.2 196.0,601.2 201.0,601.5 C206.0,601.8 211.0,602.5 216.0,603.5 C221.0,604.5 226.0,605.8 231.0,607.2 C236.0,608.7 241.0,610.4 246.0,612.2 C251.0,614.1 256.0,616.2 261.0,618.5 C266.0,620.8 271.0,623.5 276.0,626.0 C281.0,628.5 286.0,630.8 291.0,633.5 C296.0,636.2 301.0,639.3 306.0,642.2 C311.0,645.2 316.4,648.5 321.0,651.0 C325.6,653.5 329.5,655.1 333.5,657.2 C337.5,659.4 343.1,662.9 345.0,664.0 L400.0,700.0 L70.0,720.0 L70.0,649.0Z" fill="#ff0000"/>
<g clip-path="url(#rc)" fill="none" stroke="#9a7878" stroke-opacity="0.6" stroke-width="0.5"><use href="#cl"/></g>
<g fill="none" stroke="#3a3a3a" stroke-opacity="0.6" stroke-width="0.5"><path d="M505.8,33.0 C505.1,35.0 503.5,40.9 502.0,45.0 C500.5,49.1 499.1,52.9 497.0,57.5 C494.9,62.1 492.4,67.9 489.5,72.5 C486.6,77.1 483.2,81.2 479.5,85.0 C475.8,88.8 471.6,92.1 467.0,95.0 C462.4,97.9 457.0,100.4 452.0,102.5 C447.0,104.6 442.8,105.6 437.0,107.5 C431.2,109.4 423.2,111.7 417.0,113.8 C410.8,115.8 405.3,118.4 399.5,120.0 C393.7,121.6 388.2,122.5 382.0,123.5 C375.8,124.5 368.7,125.3 362.0,126.0 C355.3,126.7 347.2,126.2 342.0,127.4 C336.8,128.6 334.2,130.7 331.0,133.0 C327.8,135.3 325.1,138.2 323.0,141.5 C320.9,144.8 319.6,148.6 318.5,152.5 C317.4,156.4 316.5,160.4 316.5,165.0 C316.5,169.6 317.3,175.4 318.5,180.0 C319.7,184.6 321.4,189.4 323.5,192.5 C325.6,195.6 327.9,196.6 331.0,198.5 C334.1,200.4 338.1,202.4 342.0,204.0 C345.9,205.6 350.3,207.2 354.5,208.2 C358.7,209.2 362.8,209.8 367.0,210.0 C371.2,210.2 375.3,210.0 379.5,209.5 C383.7,209.0 387.4,208.0 392.0,207.0 C396.6,206.0 401.6,204.5 407.0,203.2 C412.4,202.0 418.7,200.5 424.5,199.5 C430.3,198.5 436.2,197.6 442.0,197.0 C447.8,196.4 454.0,196.3 459.0,196.0 C464.0,195.7 468.2,195.4 472.0,195.3 C475.8,195.2 478.5,195.2 482.0,195.4 C485.5,195.6 489.3,196.0 493.0,196.5 C496.7,197.0 499.4,197.1 504.0,198.6 C508.6,200.1 514.9,202.6 520.3,205.7 C525.7,208.8 530.4,212.2 536.3,217.0 C542.2,221.8 549.1,228.4 555.6,234.6 C562.1,240.8 568.6,247.3 575.0,254.0 C581.4,260.7 587.6,267.8 594.0,274.7 C600.4,281.6 606.9,288.6 613.4,295.6 C619.9,302.6 626.8,310.0 632.7,316.5 C638.6,323.0 646.3,331.5 649.0,334.5"/><path d="M230.6,33.0 C230.9,35.6 231.2,43.8 232.3,48.4 C233.4,53.0 235.0,57.1 237.4,60.7 C239.8,64.3 243.0,67.5 246.6,69.9 C250.2,72.3 254.7,74.0 258.8,75.0 C262.9,76.0 267.2,76.3 271.0,76.0 C274.8,75.7 278.1,75.0 281.3,73.3 C284.6,71.6 288.1,68.9 290.5,65.8 C292.9,62.7 294.8,58.4 296.0,54.5 C297.2,50.6 297.4,45.9 297.7,42.3 C298.0,38.7 297.7,34.5 297.7,33.0"/><path d="M76.0,649.5 C78.3,647.9 85.2,642.8 90.0,639.8 C94.8,636.7 100.0,633.8 105.0,631.0 C110.0,628.2 115.0,625.5 120.0,623.0 C125.0,620.5 130.0,618.2 135.0,616.0 C140.0,613.8 144.0,611.8 150.0,609.8 C156.0,607.7 165.0,604.9 171.0,603.5 C177.0,602.1 181.0,601.8 186.0,601.5 C191.0,601.2 196.0,601.2 201.0,601.5 C206.0,601.8 211.0,602.5 216.0,603.5 C221.0,604.5 226.0,605.8 231.0,607.2 C236.0,608.7 241.0,610.4 246.0,612.2 C251.0,614.1 256.0,616.2 261.0,618.5 C266.0,620.8 271.0,623.5 276.0,626.0 C281.0,628.5 286.0,630.8 291.0,633.5 C296.0,636.2 301.0,639.3 306.0,642.2 C311.0,645.2 316.4,648.5 321.0,651.0 C325.6,653.5 329.5,655.1 333.5,657.2 C337.5,659.4 343.1,662.9 345.0,664.0"/></g>
</g>
<g fill="#000">
<circle cx="93.75" cy="60.5" r="5.3"/>
<circle cx="123.75" cy="124.25" r="5.3"/>
<circle cx="252.25" cy="50.75" r="5.3"/>
<circle cx="239.25" cy="151.75" r="5.3"/>
<circle cx="184.25" cy="205.75" r="5.3"/>
<circle cx="372.75" cy="59.25" r="5.3"/>
<circle cx="420" cy="127" r="5.3"/>
<circle cx="350.75" cy="178" r="5.3"/>
<circle cx="629.8" cy="168.4" r="5.3"/>
<circle cx="112.5" cy="243.5" r="5.3"/>
<circle cx="158.25" cy="306.25" r="5.3"/>
<circle cx="234.25" cy="259" r="5.3"/>
<circle cx="496.5" cy="252" r="5.3"/>
<circle cx="402.5" cy="364" r="5.3"/>
<circle cx="264.75" cy="439.75" r="5.3"/>
<circle cx="330.25" cy="492" r="5.3"/>
<circle cx="136.75" cy="536.5" r="5.3"/>
<circle cx="238.5" cy="680.5" r="5.3"/>
</g>
<g class="s" font-size="22" fill="#000">
<text x="106" y="65.5" textLength="40.5" lengthAdjust="spacingAndGlyphs">zk08</text>
<text x="130.5" y="114.5" textLength="40.5" lengthAdjust="spacingAndGlyphs">zk09</text>
<text x="233" y="80.5" textLength="40.5" lengthAdjust="spacingAndGlyphs">zk10</text>
<text x="245.5" y="141.75" textLength="40.5" lengthAdjust="spacingAndGlyphs">zk12</text>
<text x="190.5" y="195" textLength="40.5" lengthAdjust="spacingAndGlyphs">zk07</text>
<text x="326.5" y="83" textLength="38.8" lengthAdjust="spacingAndGlyphs">zk11</text>
<text x="427" y="116.25" textLength="40.5" lengthAdjust="spacingAndGlyphs">zk05</text>
<text x="356.5" y="167" textLength="40.5" lengthAdjust="spacingAndGlyphs">zk04</text>
<text x="578.5" y="177.8" textLength="40.5" lengthAdjust="spacingAndGlyphs">zk18</text>
<text x="118.75" y="233.25" textLength="40.5" lengthAdjust="spacingAndGlyphs">zk06</text>
<text x="164" y="295.75" textLength="40.5" lengthAdjust="spacingAndGlyphs">zk02</text>
<text x="240.5" y="248.75" textLength="40.5" lengthAdjust="spacingAndGlyphs">zk03</text>
<text x="503" y="242.5" textLength="40.5" lengthAdjust="spacingAndGlyphs">zk17</text>
<text x="409" y="354.5" textLength="40.5" lengthAdjust="spacingAndGlyphs">zk16</text>
<text x="271" y="429" textLength="40.5" lengthAdjust="spacingAndGlyphs">zk15</text>
<text x="336" y="482" textLength="40.5" lengthAdjust="spacingAndGlyphs">zk14</text>
<text x="143" y="526" textLength="40.5" lengthAdjust="spacingAndGlyphs">zk13</text>
<text x="244.75" y="670.5" textLength="40.5" lengthAdjust="spacingAndGlyphs">zk01</text>
</g>
<text class="a" x="607" y="68.2" font-size="30" text-anchor="middle" fill="#000" stroke="#000" stroke-width="0.4">N</text>
<path d="M606.8,73.6 L587,140.5 Q598,125 606.8,117.5 Z" fill="#000"/>
<path d="M606.8,76.5 L625.3,138.8 L607.2,118.2 Z" fill="none" stroke="#000" stroke-width="1.9" stroke-linejoin="miter"/>
<rect x="100.6" y="712.5" width="162.3" height="9.5" fill="#fff" stroke="#000" stroke-width="0.8"/>
<rect x="100.2" y="712.1" width="82" height="10.3" fill="#000"/>
<g class="a" font-size="20" fill="#000">
<text x="268.5" y="722.8">Meter</text>
<text x="100.8" y="746.3" text-anchor="middle">0</text>
<text x="263.5" y="746.3" text-anchor="middle">1,000</text>
</g>
<text class="s b" x="526.4" y="501" font-size="22.8" textLength="72" lengthAdjust="spacingAndGlyphs">Legend</text>
<g class="s" font-size="22.5" fill="#000">
<text x="528.5" y="526.5" textLength="69.5" lengthAdjust="spacingAndGlyphs">unit (m)</text>
<text x="528.5" y="557" textLength="115.75" lengthAdjust="spacingAndGlyphs">Borehole and</text>
<text x="528.5" y="574.5" textLength="66" lengthAdjust="spacingAndGlyphs">number</text>
</g>
<rect x="468.5" y="544" width="53" height="25" fill="#fff" stroke="#9a9a9a" stroke-width="0.7"/>
<circle cx="480.75" cy="556" r="7.7" fill="#000"/>
<text class="s" x="494" y="560" font-size="13.3">zk1</text>
<rect x="468.5" y="582" width="52" height="25.3" fill="#38a800" stroke="#6e6e6e" stroke-width="0.5"/>
<text class="s" x="530" y="603" font-size="25" textLength="124.3" lengthAdjust="spacingAndGlyphs">0.050 - 2.750</text>
<rect x="468.5" y="616.5" width="52" height="25.3" fill="#8bd100" stroke="#6e6e6e" stroke-width="0.5"/>
<text class="s" x="530" y="638.3" font-size="25" textLength="124.3" lengthAdjust="spacingAndGlyphs">2.751 - 5.750</text>
<rect x="468.5" y="652.25" width="52" height="25.3" fill="#ffff00" stroke="#6e6e6e" stroke-width="0.5"/>
<text class="s" x="530" y="673.6" font-size="25" textLength="124.3" lengthAdjust="spacingAndGlyphs">5.751 - 8.250</text>
<rect x="468.5" y="687.75" width="52" height="25.3" fill="#ff8000" stroke="#6e6e6e" stroke-width="0.5"/>
<text class="s" x="530" y="708.6" font-size="25" textLength="135.5" lengthAdjust="spacingAndGlyphs">8.251 - 10.750</text>
<rect x="468.5" y="723.5" width="52" height="25.3" fill="#ff0000" stroke="#6e6e6e" stroke-width="0.5"/>
<text class="s" x="530" y="744.1" font-size="25" textLength="146.6" lengthAdjust="spacingAndGlyphs">10.751 - 14.250</text>
<g stroke="#707070" stroke-opacity="0.5" stroke-width="0.5" fill="none">
<line x1="68.3" y1="7.5" x2="68.3" y2="755.5"/>
<line x1="230.3" y1="7.5" x2="230.3" y2="755.5"/>
<line x1="392.3" y1="7.5" x2="392.3" y2="755.5"/>
<line x1="554.4" y1="7.5" x2="554.4" y2="755.5"/>
<line x1="34" y1="75.35" x2="678" y2="75.35"/>
<line x1="34" y1="237" x2="678" y2="237"/>
<line x1="34" y1="398.7" x2="678" y2="398.7"/>
<line x1="34" y1="560.3" x2="678" y2="560.3"/>
<line x1="34" y1="722" x2="678" y2="722"/>
</g>
<path d="M34,7.5 H678 V755.5" fill="none" stroke="#555" stroke-width="1.4"/>
<path d="M34,7.5 V755.5 H678" fill="none" stroke="#1e1e1e" stroke-width="1.4" stroke-linecap="square"/>
<g stroke="#111" stroke-width="1.4">
<line x1="68.3" y1="755.5" x2="68.3" y2="762.3"/>
<line x1="230.3" y1="755.5" x2="230.3" y2="762.3"/>
<line x1="392.3" y1="755.5" x2="392.3" y2="762.3"/>
<line x1="554.4" y1="755.5" x2="554.4" y2="762.3"/>
<line x1="27" y1="75.35" x2="34" y2="75.35"/>
<line x1="27" y1="237" x2="34" y2="237"/>
<line x1="27" y1="398.7" x2="34" y2="398.7"/>
<line x1="27" y1="560.3" x2="34" y2="560.3"/>
<line x1="27" y1="722" x2="34" y2="722"/>
</g>
<g class="s b" font-size="24.5" fill="#000">
<text x="57.7" y="784.6" text-anchor="middle" textLength="94.5" lengthAdjust="spacingAndGlyphs">35618000</text>
<text x="219.7" y="784.6" text-anchor="middle" textLength="94.5" lengthAdjust="spacingAndGlyphs">35619000</text>
<text x="381.7" y="784.6" text-anchor="middle" textLength="94.5" lengthAdjust="spacingAndGlyphs">35620000</text>
<text x="543.8" y="784.6" text-anchor="middle" textLength="94.5" lengthAdjust="spacingAndGlyphs">35621000</text>
<text transform="translate(22,85.85) rotate(-90)" text-anchor="middle" textLength="83.5" lengthAdjust="spacingAndGlyphs">3026000</text>
<text transform="translate(22,247.5) rotate(-90)" text-anchor="middle" textLength="83.5" lengthAdjust="spacingAndGlyphs">3025000</text>
<text transform="translate(22,409.2) rotate(-90)" text-anchor="middle" textLength="83.5" lengthAdjust="spacingAndGlyphs">3024000</text>
<text transform="translate(22,570.8) rotate(-90)" text-anchor="middle" textLength="83.5" lengthAdjust="spacingAndGlyphs">3023000</text>
</g>
</svg>
</body></html>
